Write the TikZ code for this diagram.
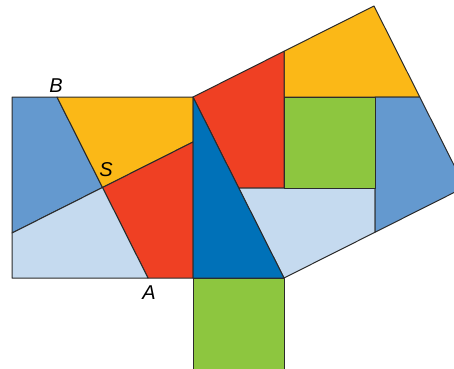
\documentclass[tikz,border=0pt]{standalone}
\usepackage{fontspec}
\setmainfont{Liberation Sans}
\definecolor{cYel}{HTML}{FBB817}
\definecolor{cRed}{HTML}{EF4023}
\definecolor{cMBlue}{HTML}{6499CF}
\definecolor{cLBlue}{HTML}{C5DAEF}
\definecolor{cDBlue}{HTML}{0071B8}
\definecolor{cGreen}{HTML}{8DC63F}
\definecolor{cLine}{HTML}{2B2B2B}
\begin{document}
\begin{tikzpicture}[x=1pt,y=-1pt,
  piece/.style={draw=cLine,line width=1pt,line join=round},
  lbl/.style={font=\fontsize{20}{20}\selectfont\itshape,inner sep=0pt}]
\useasboundingbox (0,0) rectangle (454,368);
\clip (0,0) rectangle (454,368);
% key points
\coordinate (P) at (193,97);
\coordinate (C) at (193,278);
\coordinate (Q) at (284,278);
\coordinate (T) at (374,6);
\coordinate (R) at (465,187);
\coordinate (S) at (102.5,187.5);
\coordinate (B) at (57,97);
\coordinate (A) at (148,278);
\coordinate (L1) at (193,142);
\coordinate (L2) at (12,233);
% left square pieces
\fill[cMBlue,piece] (12,97) -- (B) -- (S) -- (L2) -- cycle;
\fill[cYel,piece] (B) -- (P) -- (L1) -- (S) -- cycle;
\fill[cRed,piece] (S) -- (L1) -- (C) -- (A) -- cycle;
\fill[cLBlue,piece] (L2) -- (S) -- (A) -- (12,278) -- cycle;
% bottom square
\fill[cGreen,piece] (C) rectangle (284,369);
% hypotenuse square pieces
\fill[cYel,piece] (284,51.25) -- (T) -- (419.75,97) -- (284,97) -- cycle;
\fill[cRed,piece] (P) -- (284,51.25) -- (284,188) -- (238.75,188) -- cycle;
\fill[cLBlue,piece] (238.75,188) -- (375,188) -- (375,232.25) -- (Q) -- cycle;
\fill[cMBlue,piece] (375,97) -- (419.75,97) -- (R) -- (375,232.25) -- cycle;
\fill[cGreen,piece] (284,97) rectangle (375,188);
% triangle
\fill[cDBlue,piece] (P) -- (C) -- (Q) -- cycle;
% labels
\node[lbl] (lB) at (56,86) {B};
\node[lbl] (lS) at (106,170) {S};
\node[lbl] (lA) at (149,293) {A};
\end{tikzpicture}
\end{document}
